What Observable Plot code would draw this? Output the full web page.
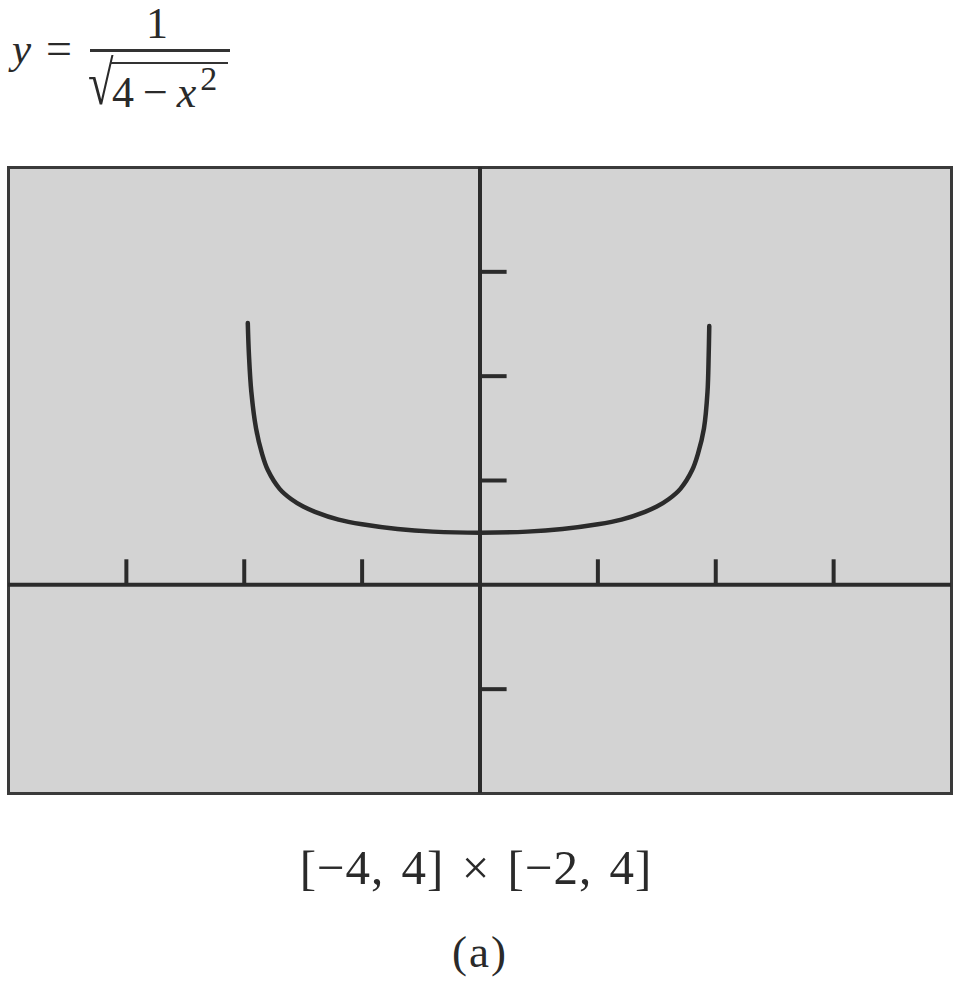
<!DOCTYPE html>
<html>
<head>
<meta charset="utf-8">
<script src="https://cdn.jsdelivr.net/npm/d3@7"></script>
<script src="https://cdn.jsdelivr.net/npm/@observablehq/plot@0.6"></script>
<style>
  html, body { margin: 0; padding: 0; background: #ffffff; }
  body { width: 963px; height: 986px; position: relative; overflow: hidden;
         font-family: "Liberation Serif", "DejaVu Serif", serif; color: #2a2a2a; }
  .t { position: absolute; line-height: 1; white-space: nowrap; }
  #chart { position: absolute; left: 0; top: 150px; }
</style>
</head>
<body>
<div class="t" style="left:12px; top:27px; font-size:43px; font-style:italic;">y</div>
<div class="t" style="left:46px; top:26px; font-size:46px;">=</div>
<div class="t" style="left:146px; top:2px; font-size:44px;">1</div>
<div style="position:absolute; left:90px; top:49px; width:140px; height:3px; background:#333;"></div>
<div class="t" style="left:88px; top:52px; font-size:62px; transform:scaleX(0.75); transform-origin:left top;">√</div>
<div style="position:absolute; left:110px; top:62px; width:118px; height:2px; background:#333;"></div>
<div class="t" style="left:112px; top:71px; font-size:44px;">4<span style="margin:0 9px;">−</span><i>x</i><span style="font-size:34px; position:relative; top:-17px; margin-left:4px;">2</span></div>

<div id="chart"></div>

<div class="t" style="left:0; width:952px; text-align:center; top:843px; font-size:49px; word-spacing:4px; letter-spacing:1px;">[−4, 4] × [−2, 4]</div>
<div class="t" style="left:0; width:960px; text-align:center; top:930px; font-size:45px; letter-spacing:2px;">(a)</div>

<script>
// Values
const xDomain = [-4, 4];
const yDomain = [-2, 4];
const xTicks = [-3, -2, -1, 1, 2, 3];
const yTicks = [-1, 1, 2, 3];
const curveX = [-1.97, -1.96, -1.94, -1.9, -1.85, -1.8, -1.7, -1.6, -1.5, -1.4, -1.2, -1.0, -0.7, -0.4, 0, 0.4, 0.7, 1.0, 1.2, 1.4, 1.5, 1.6, 1.7, 1.8, 1.85, 1.9, 1.93, 1.94, 1.945];
const curveY = [2.51, 2.2, 1.85, 1.5, 1.26, 1.1, 0.92, 0.82, 0.75, 0.70, 0.625, 0.58, 0.535, 0.51, 0.5, 0.51, 0.535, 0.58, 0.625, 0.70, 0.75, 0.82, 0.92, 1.1, 1.26, 1.5, 1.85, 2.2, 2.48];

const curve = curveX.map((x, i) => ({x, y: curveY[i]}));
const ink = "#2b2b2b";

const chart = Plot.plot({
  width: 963,
  height: 670,
  marginLeft: 8,
  marginRight: 12,
  marginTop: 17,
  marginBottom: 27,
  x: {domain: xDomain, axis: null},
  y: {domain: yDomain, axis: null},
  style: {background: "transparent", overflow: "visible"},
  marks: [
    Plot.frame({fill: "#d3d3d3", stroke: "#3a3a3a", strokeWidth: 3}),
    Plot.ruleY([0], {stroke: ink, strokeWidth: 4}),
    Plot.ruleX([0], {stroke: ink, strokeWidth: 4}),
    Plot.ruleX(xTicks, {y1: 0, y2: 0.24, stroke: ink, strokeWidth: 4}),
    Plot.ruleY(yTicks, {x1: 0, x2: 0.23, stroke: ink, strokeWidth: 4}),
    Plot.line(curve, {x: "x", y: "y", stroke: ink, strokeWidth: 4.5, curve: "catmull-rom"})
  ]
});
document.getElementById("chart").appendChild(chart);
</script>
</body>
</html>
